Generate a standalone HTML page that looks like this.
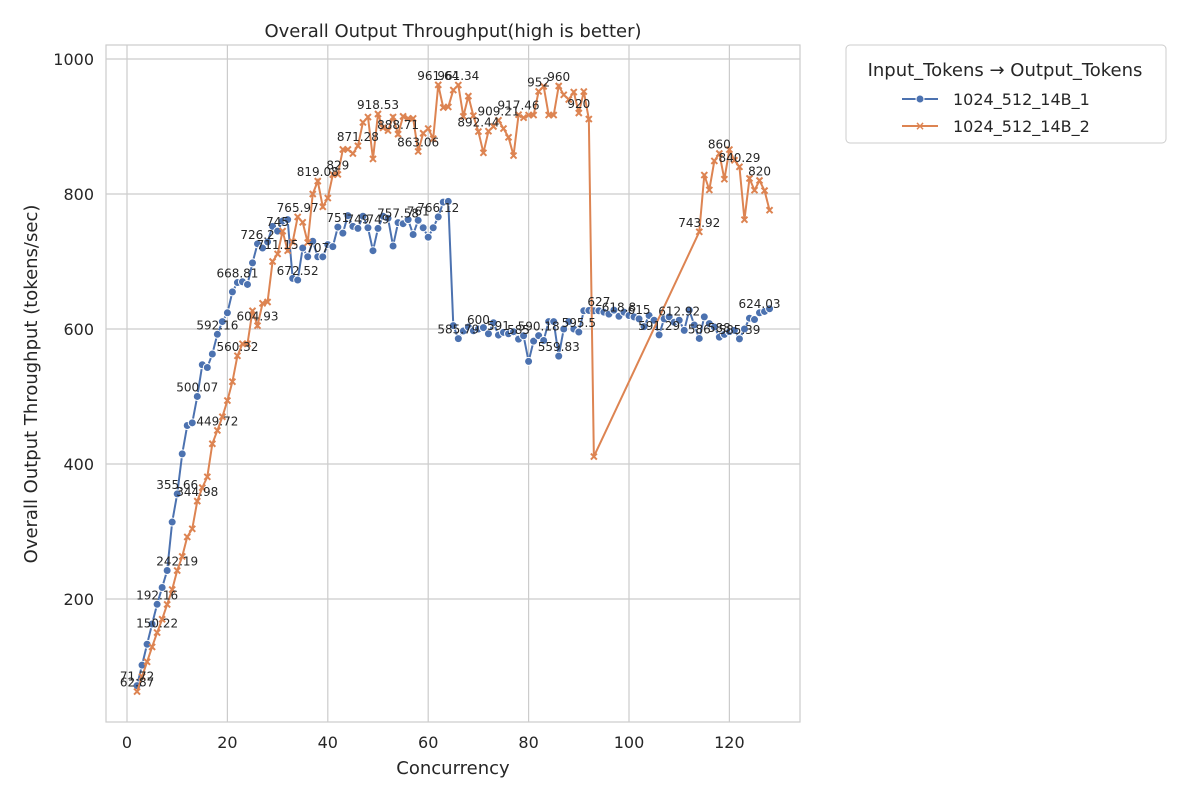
<!DOCTYPE html>
<html><head><meta charset="utf-8"><style>
body{margin:0;background:#fff;font-family:"Liberation Sans","DejaVu Sans",sans-serif}
svg text{font-family:"DejaVu Sans","Liberation Sans",sans-serif}
</style></head><body>
<svg id="chart" width="1200" height="800" xmlns="http://www.w3.org/2000/svg">
<rect x="106" y="45" width="694" height="677" fill="#fff" stroke="#ccc" stroke-width="1.2"/>
<g id="grid"></g><g id="series"></g><g id="labels"></g><g id="axes"></g>
<text x="453" y="37" text-anchor="middle" font-size="18" fill="#262626">Overall Output Throughput(high is better)</text>
<text x="453" y="774" text-anchor="middle" font-size="18" fill="#262626">Concurrency</text>
<text transform="translate(37,384) rotate(-90)" text-anchor="middle" font-size="18" fill="#262626">Overall Output Throughput (tokens/sec)</text>
<g>
<rect x="846" y="45" width="320" height="98" rx="4" fill="#fff" stroke="#ccc"/>
<text x="1005" y="76" text-anchor="middle" font-size="18" fill="#262626">Input_Tokens → Output_Tokens</text>
<g><line x1="902" y1="99" x2="938" y2="99" stroke="#4c72b0" stroke-width="2"/><circle cx="920" cy="99" r="4" fill="#4c72b0" stroke="#fff"/><text x="953" y="105" font-size="16" fill="#262626">1024_512_14B_1</text></g>
<g><line x1="902" y1="126" x2="938" y2="126" stroke="#dd8452" stroke-width="2"/><text x="920" y="130" text-anchor="middle" font-size="12" font-weight="bold" fill="#dd8452">×</text><text x="953" y="132" font-size="16" fill="#262626">1024_512_14B_2</text></g>
</g>
</svg>
<script>
const xTicks=[0,20,40,60,80,100,120];
const yTicks=[200,400,600,800,1000];
const blueX=[];for(let i=2;i<=128;i++)blueX.push(i);
const blueY=[71.72,102,133,163,192.16,217,242.19,314,355.66,415,457,461,500.07,547,543,563,592.16,611,624,655,668.81,670,666,698,726.2,720,729,752,745,760,762,675,672.52,720,707,730,707,706.93,725,722,751,742,768,752,749,767,750,716,749,767,764,723,757.58,756,762,740,761,750,736,750,766.12,788,789,605,585.79,597,603,597.34,600,602,593,609.33,591,595,593,596,585,590,552,582,590.18,583,611,611,559.83,600,611,600,595.5,627,627.47,627,627,625,622,628,618.8,625,620,618,615,603.49,620,613,591.29,615,618,610,612.92,598,628,606,586,618,608,603,588,592,596,598,585.39,600,616,614,624.03,626,630];
const orangeX=[];for(let i=2;i<=93;i++)orangeX.push(i);for(let i=114;i<=128;i++)orangeX.push(i);
const orangeY=[62.87,85,107,129,150.22,170,192,214,242.19,263,292,304,344.98,365,381,430,449.72,470,494,522,560.32,578,578,627,604.93,638,640,700,711.15,745,716,729,765.97,758,728,800,819.08,781,794,828.7,829,866,866,860,871.28,906,914,852,918.53,898,894,914,888.71,915,912,912,863.06,890,897,882,961.64,928,929,954,961.34,915,945,916,892.44,861,893,900,909.21,897,884,857,917.46,913,917,917,952,959.45,917,917,960,946.97,940,951,920,951.73,911,411,743.92,828,806,849,860,822,865.8,850,840.29,762,823,805.6,820,805,776];
const NS="http://www.w3.org/2000/svg";
const sx=v=>127+5.02*v, sy=v=>59+(1000-v)*0.675;
function mk(tag,attrs,parent){const e=document.createElementNS(NS,tag);for(const k in attrs)e.setAttribute(k,attrs[k]);parent.appendChild(e);return e;}
const grid=document.getElementById('grid'),axes=document.getElementById('axes'),ser=document.getElementById('series'),lab=document.getElementById('labels');
xTicks.forEach(t=>{const l=mk('line',{x1:sx(t),x2:sx(t),y1:45,y2:722,stroke:'#ccc','stroke-width':1.2},grid);


const tx=mk('text',{x:sx(t),y:748,'text-anchor':'middle','font-size':16,fill:'#262626'},axes);tx.textContent=t;

});
yTicks.forEach(t=>{const l=mk('line',{x1:106,x2:800,y1:sy(t),y2:sy(t),stroke:'#ccc','stroke-width':1.2},grid);


const tx=mk('text',{x:94,y:sy(t)+6,'text-anchor':'end','font-size':16,fill:'#262626'},axes);tx.textContent=t;

});
function draw(xs,ys,color,marker,name){
 const p=mk('polyline',{points:xs.map((x,i)=>sx(x)+','+sy(ys[i])).join(' '),fill:'none',stroke:color,'stroke-width':2},ser);
 
 
 xs.forEach((x,i)=>{let m;
  if(marker==='o'){m=mk('circle',{cx:sx(x),cy:sy(ys[i]),r:4,fill:color,stroke:'#fff','stroke-width':1},ser);}
  else{const cx=sx(x),cy=sy(ys[i]),d=3;m=mk('path',{d:`M${cx-d},${cy-d}L${cx+d},${cy+d}M${cx-d},${cy+d}L${cx+d},${cy-d}`,stroke:color,'stroke-width':2},ser);}
  
  
  if(i%4===0){const t=mk('text',{x:sx(x),y:sy(ys[i])-5,'text-anchor':'middle','font-size':12,fill:'#262626'},lab);t.textContent=String(ys[i]);
   
   }
 });
}
draw(blueX,blueY,'#4c72b0','o','series-1');
draw(orangeX,orangeY,'#dd8452','x','series-2');
</script>
</body></html>
